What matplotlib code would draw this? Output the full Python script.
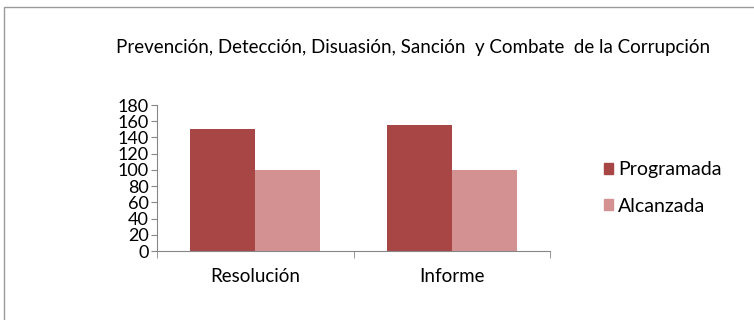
import matplotlib.pyplot as plt
import numpy as np
from matplotlib.patches import Rectangle, Patch

plt.rcParams['font.family'] = ['Lato', 'DejaVu Sans']

categories = ['Resolución', 'Informe']
programada = [150, 155]
alcanzada = [100, 100]
y_ticks = [0, 20, 40, 60, 80, 100, 120, 140, 160, 180]

title = 'Prevención, Detección, Disuasión, Sanción  y Combate  de la Corrupción'
dark = '#A84646'
light = '#D39191'
grey = '#868686'

fig = plt.figure(figsize=(7.54, 3.20), dpi=100)

# outer chart frame (left and top edges visible)
fig.patches.append(Rectangle((4 / 754, -0.1), 1.2, 1.1 - 7 / 320,
                             transform=fig.transFigure, fill=False,
                             edgecolor='#9a9a9a', linewidth=1.0))

ax = fig.add_axes([157 / 754, 1 - 251 / 320, (550 - 157) / 754, (251 - 105) / 320])

x = np.arange(len(categories))
w = 0.33
ax.bar(x - w / 2, programada, width=w, color=dark, label='Programada')
ax.bar(x + w / 2, alcanzada, width=w, color=light, label='Alcanzada')

ax.set_xlim(-0.5, len(categories) - 0.5)
ax.set_ylim(0, 180)
ax.set_yticks(y_ticks)
ax.tick_params(axis='y', labelsize=13, length=4, color=grey, pad=2)

ax.set_xticks(x)
ax.set_xticklabels(categories, fontsize=13.5)
ax.tick_params(axis='x', length=0, pad=12)
ax.set_xticks(np.arange(-0.5, len(categories)), minor=True)
ax.tick_params(axis='x', which='minor', length=5, color=grey)

for s in ['top', 'right']:
    ax.spines[s].set_visible(False)
for s in ['left', 'bottom']:
    ax.spines[s].set_color(grey)

fig.text(413 / 754, 1 - 47 / 320, title, ha='center', va='center', fontsize=13.5)

handles = [Patch(color=dark), Patch(color=light)]
fig.legend(handles, ['Programada', 'Alcanzada'], loc='center left',
           bbox_to_anchor=(586 / 754, 1 - 188 / 320), frameon=False,
           fontsize=14, handlelength=0.5, handleheight=0.5, handletextpad=0.25,
           labelspacing=1.0)

fig.savefig('out.png', dpi=100)
